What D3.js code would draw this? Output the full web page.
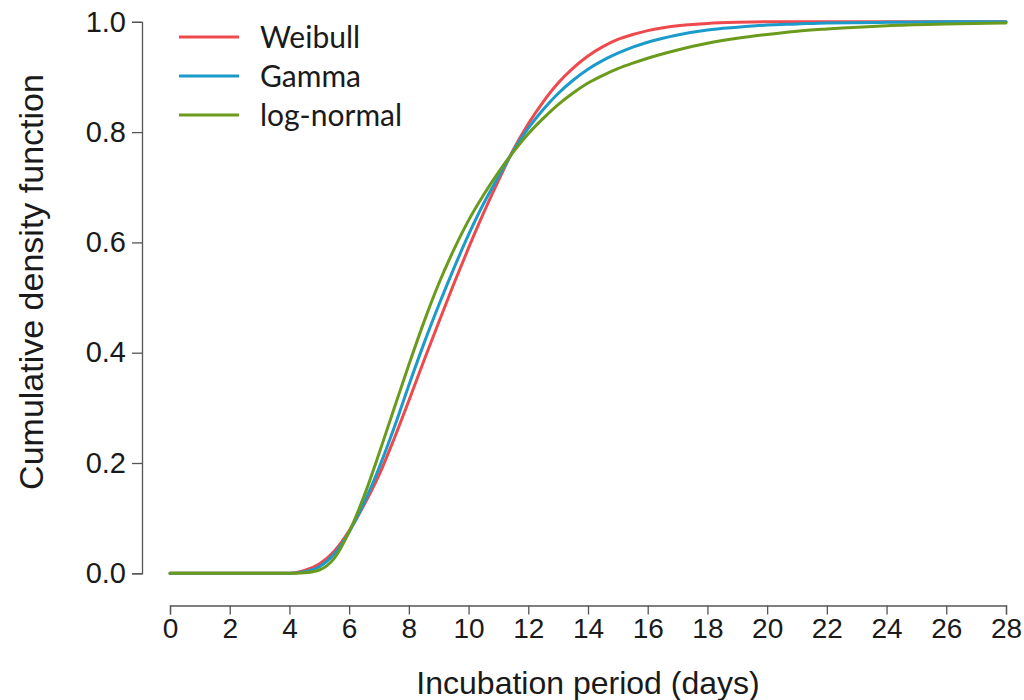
<!DOCTYPE html>
<html>
<head>
<meta charset="utf-8">
<script src="https://cdn.jsdelivr.net/npm/d3@7"></script>
<style>
  html, body { margin: 0; padding: 0; background: #ffffff; }
  svg { display: block; }
</style>
</head>
<body>
<svg id="chart" width="1024" height="700"></svg>
<script>
// ---- data ----
const days = [0, 1, 2, 3, 4, 4.5, 5, 5.5, 6, 6.5, 7, 7.5, 8, 8.5, 9, 9.5, 10, 10.5, 11, 11.5,
              12, 12.5, 13, 13.5, 14, 14.5, 15, 15.5, 16, 17, 18, 19, 20, 21, 22, 24, 26, 28];

const weibull = [0, 0, 0, 0, 0, 0.005, 0.017, 0.040, 0.077, 0.124, 0.178, 0.243, 0.313, 0.385, 0.455, 0.524,
                 0.590, 0.653, 0.712, 0.768, 0.815, 0.855, 0.889, 0.916, 0.938, 0.955, 0.968, 0.977,
                 0.984, 0.993, 0.997, 0.999, 1.000, 1.000, 1.000, 1.000, 1.000, 1.000];

const gamma   = [0, 0, 0, 0, 0, 0.003, 0.012, 0.035, 0.075, 0.128, 0.191, 0.263, 0.341, 0.416, 0.486, 0.552,
                 0.614, 0.670, 0.719, 0.766, 0.807, 0.841, 0.870, 0.894, 0.914, 0.930, 0.943, 0.954,
                 0.963, 0.976, 0.985, 0.990, 0.994, 0.996, 0.998, 0.999, 1.000, 1.000];

const lognormal = [0, 0, 0, 0, 0, 0.001, 0.006, 0.027, 0.075, 0.140, 0.217, 0.298, 0.378, 0.455, 0.525, 0.586,
                 0.640, 0.686, 0.727, 0.764, 0.797, 0.825, 0.850, 0.871, 0.889, 0.903, 0.915, 0.925,
                 0.934, 0.949, 0.961, 0.970, 0.977, 0.983, 0.987, 0.993, 0.996, 0.998];

const seriesNames = ["Weibull", "Gamma", "log-normal"];
const seriesColors = ["#ee4a4d", "#1b9bcb", "#6b9b1c"];
const xTicks = [0, 2, 4, 6, 8, 10, 12, 14, 16, 18, 20, 22, 24, 26, 28];
const yTicks = [0, 0.2, 0.4, 0.6, 0.8, 1.0];
const xTitle = "Incubation period (days)";
const yTitle = "Cumulative density function";

// ---- drawing ----
const svg = d3.select("#chart");
const x = d3.scaleLinear().domain([0, 28]).range([170, 1006]);
const y = d3.scaleLinear().domain([0, 1]).range([573.3, 21.8]);

const axisColor = "#555";
const tickFont = "'Liberation Sans', Arial, sans-serif";

// y axis
const yAxis = svg.append("g").attr("transform", "translate(142,0)")
  .call(d3.axisLeft(y).tickValues(yTicks).tickFormat(d3.format(".1f")).tickSize(10).tickPadding(6));
yAxis.select(".domain").attr("stroke", axisColor).attr("stroke-width", 1.3);
yAxis.selectAll(".tick line").attr("stroke", axisColor).attr("stroke-width", 1.3);
yAxis.selectAll(".tick text").attr("fill", "#1a1a1a").style("font-family", tickFont).style("font-size", "29px");

// x axis
const xAxis = svg.append("g").attr("transform", "translate(0,605.5)")
  .call(d3.axisBottom(x).tickValues(xTicks).tickFormat(d3.format("d")).tickSize(9).tickPadding(4));
xAxis.select(".domain").attr("stroke", axisColor).attr("stroke-width", 1.3);
xAxis.selectAll(".tick line").attr("stroke", axisColor).attr("stroke-width", 1.3);
xAxis.selectAll(".tick text").attr("fill", "#1a1a1a").style("font-family", tickFont).style("font-size", "28px");

// axis titles
svg.append("text").attr("x", 588).attr("y", 694).attr("text-anchor", "middle")
  .attr("fill", "#1a1a1a").style("font-family", tickFont).style("font-size", "32px").text(xTitle);
svg.append("text").attr("transform", "translate(43,282) rotate(-90)").attr("text-anchor", "middle")
  .attr("fill", "#1a1a1a").style("font-family", tickFont).style("font-size", "34px").text(yTitle);

// curves
const allSeries = [weibull, gamma, lognormal];
const line = d3.line().x(d => x(d[0])).y(d => y(d[1])).curve(d3.curveMonotoneX);
allSeries.forEach((vals, i) => {
  svg.append("path")
    .datum(days.map((d, j) => [d, vals[j]]))
    .attr("fill", "none")
    .attr("stroke", seriesColors[i])
    .attr("stroke-width", 3)
    .attr("stroke-linejoin", "round")
    .attr("stroke-linecap", "round")
    .attr("d", line);
});

// legend
const legendFont = "Lato, 'Open Sans', sans-serif";
const leg = svg.append("g");
seriesNames.forEach((name, i) => {
  const ly = 37 + i * 39;
  leg.append("line").attr("x1", 179).attr("x2", 239).attr("y1", ly).attr("y2", ly)
    .attr("stroke", seriesColors[i]).attr("stroke-width", 3);
  leg.append("text").attr("x", 260).attr("y", ly).attr("dy", "0.36em")
    .attr("fill", "#1a1a1a").style("font-family", legendFont).style("font-size", "30px").text(name);
});
</script>
</body>
</html>
